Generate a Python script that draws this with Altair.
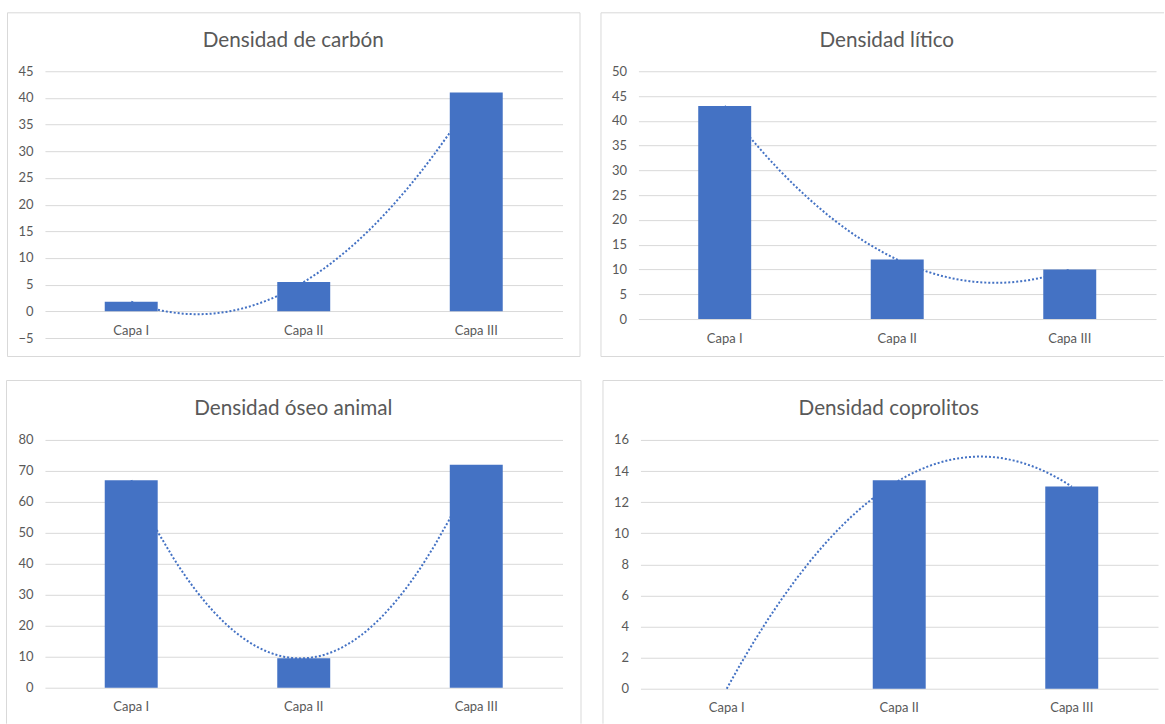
import altair as alt
import pandas as pd

# Layers (categories) and densities per layer
capas = ["Capa I", "Capa II", "Capa III"]
capa_num = [1, 2, 3]
carbon = [1.8, 5.5, 41]
litico = [43, 12, 10]
oseo = [67, 9.5, 72]
coprolitos = [0, 13.4, 13]

titulos = [
    "Densidad de carbón",
    "Densidad lítico",
    "Densidad óseo animal",
    "Densidad coprolitos",
]
dominios = [(-5, 45), (0, 50), (0, 80), (0, 16)]
pasos = [5, 5, 10, 2]

AZUL = "#4472C4"
GRIS = "#D9D9D9"
TEXTO = "#595959"
FUENTE = "Lato"
ANCHO = 518


def marco(left, top, right, bottom, lados):
    """Light chart-area border drawn as separate rules (only the visible sides)."""
    uno = pd.DataFrame({"k": [0]})
    capas_marco = []
    if "top" in lados:
        capas_marco.append(alt.Chart(uno).mark_rule(color=GRIS, strokeWidth=1).encode(
            x=alt.value(left), x2=alt.value(right), y=alt.value(top)))
    if "bottom" in lados:
        capas_marco.append(alt.Chart(uno).mark_rule(color=GRIS, strokeWidth=1).encode(
            x=alt.value(left), x2=alt.value(right), y=alt.value(bottom)))
    if "left" in lados:
        capas_marco.append(alt.Chart(uno).mark_rule(color=GRIS, strokeWidth=1).encode(
            x=alt.value(left), y=alt.value(top), y2=alt.value(bottom)))
    if "right" in lados:
        capas_marco.append(alt.Chart(uno).mark_rule(color=GRIS, strokeWidth=1).encode(
            x=alt.value(right), y=alt.value(top), y2=alt.value(bottom)))
    return capas_marco


def panel(valores, titulo, dominio, paso, alto, caja, lados, titulo_offset):
    df = pd.DataFrame({"capa": capas, "n": capa_num, "valor": valores})
    lo, hi = dominio
    ticks = list(range(lo, hi + 1, paso))
    # category axis sits on the zero line
    desplazamiento = -alto * (0 - lo) / (hi - lo)

    eje_y = alt.Axis(
        title=None, values=ticks, grid=True, gridColor=GRIS, gridWidth=1,
        domain=False, ticks=False, labelPadding=12, labelFont=FUENTE,
        labelFontSize=13, labelColor=TEXTO,
    )
    y_enc = alt.Y("valor:Q", scale=alt.Scale(domain=[lo, hi], nice=False, zero=False), axis=eje_y)

    tendencia = (
        alt.Chart(df)
        .transform_regression("n", "valor", method="poly", order=2, extent=[1, 3])
        .mark_line(color=AZUL, strokeWidth=2, strokeDash=[2, 2])
        .encode(
            x=alt.X("n:Q", scale=alt.Scale(domain=[0.5, 3.5], nice=False, zero=False), axis=None),
            y=y_enc,
        )
    )

    barras = alt.Chart(df).mark_bar(color=AZUL).encode(
        x=alt.X(
            "capa:N", sort=capas,
            scale=alt.Scale(paddingInner=0.693, paddingOuter=0.3465),
            axis=alt.Axis(
                title=None, labelAngle=0, ticks=False, domain=False, grid=False,
                labelPadding=13, offset=desplazamiento, labelFont=FUENTE,
                labelFontSize=13, labelColor=TEXTO,
            ),
        ),
        y=y_enc,
    )

    capas_panel = marco(*caja, lados) + [tendencia, barras]
    return alt.layer(*capas_panel).resolve_scale(x="independent").properties(
        width=ANCHO,
        height=alto,
        # negative offset pulls the title down inside the chart-area border
        title=alt.TitleParams(
            titulo, frame="group", anchor="middle", dx=-10.5, offset=titulo_offset,
            baseline="alphabetic", font=FUENTE, fontSize=20.7, fontWeight="normal",
            color=TEXTO,
        ),
    )


p1 = panel(carbon, titulos[0], dominios[0], pasos[0], 267,
           (-37.5, -58.5, 535.5, 285.5), ["top", "bottom", "left", "right"], -55)
p2 = panel(litico, titulos[1], dominios[1], pasos[1], 248,
           (-37.5, -58.5, 526, 285.5), ["top", "bottom", "left"], -55)
p3 = panel(oseo, titulos[2], dominios[2], pasos[2], 248,
           (-38.5, -59.5, 536.5, 284), ["top", "left", "right"], -55.3)
p4 = panel(coprolitos, titulos[3], dominios[3], pasos[3], 249,
           (-37.5, -59.5, 523, 284), ["top", "left"], -55.3)

fila1 = alt.hconcat(p1, p2, spacing=20)
fila2 = alt.hconcat(p3, p4, spacing=21)

chart = (
    alt.vconcat(fila1, fila2, spacing=23)
    .properties(padding={"left": 6, "top": 12, "right": 0, "bottom": 0}, background="white")
    .configure_view(stroke=None)
)

chart.save("out.html", embed_options={"renderer": "svg", "actions": False})
